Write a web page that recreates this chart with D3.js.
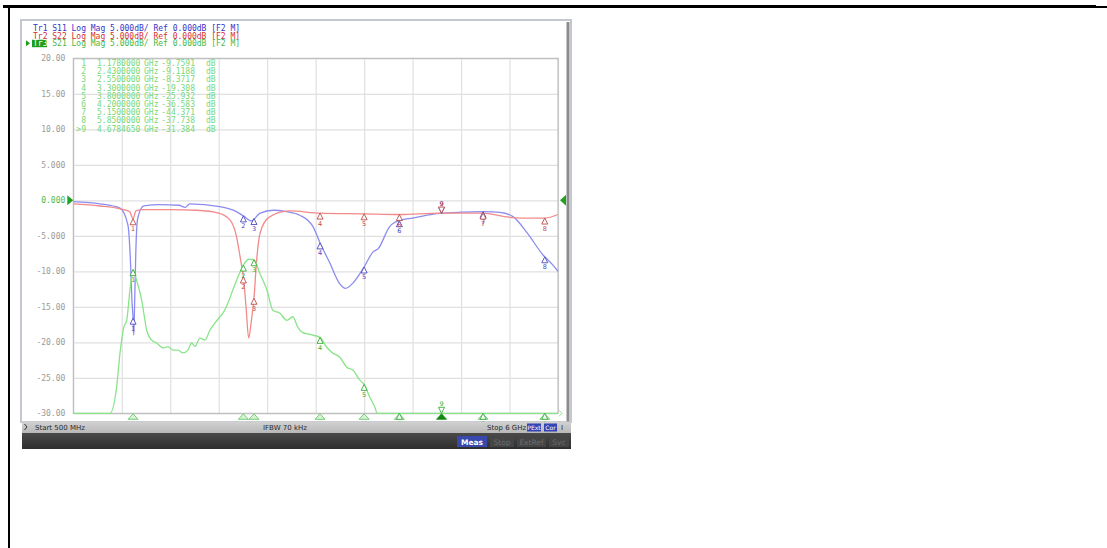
<!DOCTYPE html>
<html>
<head>
<meta charset="utf-8">
<script src="https://cdn.jsdelivr.net/npm/d3@7"></script>
<style>
  body { margin: 0; background: #fff; }
  svg { display: block; }
  .mono { font-family: "DejaVu Sans Mono", monospace; }
  .sans { font-family: "DejaVu Sans", sans-serif; }
</style>
</head>
<body>
<div id="chart"></div>
<script>
// Data (frequency in GHz, level in dB)
var s11Freq = [0.5, 0.8, 1.03, 1.12, 1.15, 1.165, 1.178, 1.186, 1.195, 1.21, 1.23, 1.30, 1.48, 1.70, 1.77, 1.82,
  2.16, 2.35, 2.43, 2.52, 2.62, 2.77, 2.92, 3.07, 3.22, 3.30, 3.41, 3.52, 3.59, 3.67, 3.79, 3.90, 3.96,
  4.09, 4.21, 4.35, 4.66, 5.15, 5.34, 5.49, 5.65, 5.83, 5.94, 6.0];
var s11Db = [-0.2, -0.5, -1.1, -3.5, -9, -14, -16.6, -19, -15, -7, -2.6, -0.8, -0.6, -0.7, -1.0, -0.5,
  -0.9, -1.6, -2.2, -2.9, -1.8, -1.4, -1.6, -2.1, -3.7, -6.0, -8.8, -11.7, -12.4, -11.7, -9.6, -7.3, -6.8,
  -3.7, -2.8, -2.5, -1.85, -1.6, -1.7, -2.3, -4.6, -7.7, -9.1, -10.0];

var s22Freq = [0.5, 0.8, 1.03, 1.14, 1.178, 1.21, 1.30, 1.60, 1.90, 2.15, 2.28, 2.35, 2.40, 2.43, 2.46, 2.49,
  2.52, 2.55, 2.58, 2.62, 2.72, 2.95, 3.30, 3.80, 4.20, 4.66, 5.15, 5.39, 5.60, 5.85, 6.0];
var s22Db = [-0.5, -0.8, -1.2, -1.6, -2.6, -1.5, -1.3, -1.3, -1.4, -1.8, -2.8, -5.0, -8.5, -10.8, -15, -19.4,
  -17, -13.8, -8.5, -4.6, -2.4, -1.5, -1.8, -1.9, -2.0, -1.8, -1.8, -2.3, -2.5, -2.5, -2.0];

var s21Freq = [0.5, 0.8, 0.916, 0.992, 1.03, 1.075, 1.106, 1.143, 1.178, 1.219, 1.276, 1.313, 1.332, 1.389,
  1.446, 1.521, 1.574, 1.631, 1.687, 1.744, 1.800, 1.843, 1.880, 1.937, 1.994, 2.050, 2.107, 2.164, 2.198,
  2.254, 2.311, 2.368, 2.43, 2.49, 2.55, 2.617, 2.696, 2.765, 2.844, 2.923, 2.991, 3.048, 3.10, 3.184, 3.30,
  3.375, 3.443, 3.524, 3.603, 3.672, 3.750, 3.80, 3.863, 3.920, 3.95, 4.2, 4.45, 4.678, 4.9, 5.15, 5.5, 5.85, 6.0];
var s21Db = [-45, -38, -30, -26.3, -21.5, -17.8, -16.9, -12.6, -9.76, -11.3, -14.1, -16.9, -18.3, -19.7,
  -20.1, -20.8, -20.6, -21.1, -21.1, -21.5, -21.1, -20.1, -20.6, -19.4, -19.7, -18.3, -17.3, -16.4, -15.9,
  -14.5, -12.6, -10.8, -9.12, -8.3, -8.37, -10.3, -12.6, -15.5, -15.9, -16.9, -16.4, -17.9, -18.6, -18.9, -19.31,
  -20.7, -21.5, -22.1, -23.5, -23.9, -25.3, -25.93, -27.7, -29.1, -31, -36.58, -33, -31.38, -38, -44.37, -40, -37.74, -39];

// Markers (marker 9 is the active one)
var markerNames = ["1", "2", "3", "4", "5", "6", "7", "8", ">9"];
var markerFreq = [1.178, 2.43, 2.55, 3.3, 3.8, 4.2, 5.15, 5.85, 4.678465];
var markerValue = ["-9.7591", "-9.1188", "-8.3717", "-19.308", "-25.932", "-36.583", "-44.371", "-37.738", "-31.384"];
var activeMarker = 8;

// Axis
var yTicks = [20, 15, 10, 5, 0, -5, -10, -15, -20, -25, -30];
var yTickLabels = ["20.00", "15.00", "10.00", "5.000", "0.000", "-5.000", "-10.00", "-15.00", "-20.00", "-25.00", "-30.00"];
var xGridTicks = [0.5, 1.05, 1.6, 2.15, 2.7, 3.25, 3.8, 4.35, 4.9, 5.45, 6.0];

var titleLines = [
  { tr: "Tr1", rest: " S11 Log Mag 5.000dB/ Ref 0.000dB [F2 M]", color: "#3434c8" },
  { tr: "Tr2", rest: " S22 Log Mag 5.000dB/ Ref 0.000dB [F2 M]", color: "#d43030" },
  { tr: "Tr3", rest: " S21 Log Mag 5.000dB/ Ref 0.000dB [F2 M]", color: "#44b844" }
];

var svgWidth = 1107;
var svgHeight = 548;

var plot = { left: 73.3, right: 558, top: 58.3, bottom: 413.3 };

var svg = d3.select("#chart")
  .append("svg")
  .attr("width", svgWidth)
  .attr("height", svgHeight);

// page rules (cell border around the picture)
svg.append("rect").attr("x", 3).attr("y", 5).attr("width", 1093).attr("height", 3).attr("fill", "#000");
svg.append("rect").attr("x", 1096).attr("y", 6).attr("width", 11).attr("height", 2).attr("fill", "#000");
svg.append("rect").attr("x", 8).attr("y", 5).attr("width", 2).attr("height", 543).attr("fill", "#000");

// analyzer screen frame
var screen = svg.append("g");
screen.append("rect").attr("x", 21).attr("y", 20).attr("width", 550).attr("height", 402)
  .attr("fill", "#fff").attr("stroke", "#c4c6d0").attr("stroke-width", 2);
screen.append("rect").attr("x", 566.5).attr("y", 22).attr("width", 3).attr("height", 400).attr("fill", "#8c8c8c");

var x = d3.scaleLinear().domain([0.5, 6]).range([plot.left, plot.right]);
var y = d3.scaleLinear().domain([-30, 20]).range([plot.bottom, plot.top]).clamp(true);

// grid
var gridY = screen.append("g")
  .attr("transform", `translate(${plot.left},0)`)
  .call(d3.axisLeft(y).tickValues(yTicks).tickSize(-(plot.right - plot.left)).tickFormat(""));
var gridX = screen.append("g")
  .attr("transform", `translate(0,${plot.bottom})`)
  .call(d3.axisBottom(x).tickValues(xGridTicks).tickSize(-(plot.bottom - plot.top)).tickFormat(""));
[gridX, gridY].forEach(function(g) {
  g.select(".domain").remove();
  g.selectAll("line").attr("stroke", "#e0e0e0").attr("stroke-width", 1.2);
});
screen.append("rect")
  .attr("x", plot.left).attr("y", plot.top)
  .attr("width", plot.right - plot.left).attr("height", plot.bottom - plot.top)
  .attr("fill", "none").attr("stroke", "#b4b4b4").attr("stroke-width", 1);

// y tick labels
var yAxis = screen.append("g")
  .attr("transform", `translate(${plot.left},0)`)
  .call(d3.axisLeft(y).tickValues(yTicks).tickSize(0).tickPadding(8)
    .tickFormat(function(d, i) { return yTickLabels[i]; }));
yAxis.select(".domain").remove();
yAxis.selectAll("text")
  .attr("class", "mono")
  .style("font-size", "8px")
  .attr("fill", function(d) { return d === 0 ? "#4cb84c" : "#9a9a9a"; });

// reference position triangles
screen.append("path")
  .attr("d", `M${plot.left - 6},${y(0) - 5}L${plot.left},${y(0)}L${plot.left - 6},${y(0) + 5}Z`)
  .attr("fill", "#22a022");
screen.append("path")
  .attr("d", `M${plot.right + 8},${y(0) - 5.5}L${plot.right + 2},${y(0)}L${plot.right + 8},${y(0) + 5.5}Z`)
  .attr("fill", "#22a022");

// title lines
titleLines.forEach(function(t, i) {
  var ty = 31 + i * 7.6;
  if (i === 2) {
    screen.append("rect").attr("x", 32).attr("y", ty - 6.5).attr("width", 15).attr("height", 7.5).attr("fill", "#1e9e1e");
    screen.append("path").attr("d", `M26,${ty - 6}L30,${ty - 3}L26,${ty}Z`).attr("fill", "#1e9e1e");
  }
  var txt = screen.append("text").attr("class", "mono").attr("x", 33).attr("y", ty)
    .style("font-size", "8px").attr("fill", t.color);
  txt.append("tspan").attr("fill", i === 2 ? "#fff" : t.color).text(t.tr);
  txt.append("tspan").text(t.rest);
});

// traces
var traces = [
  { freq: s11Freq, db: s11Db, line: "#8c8cf0", mark: "#4a48b8" },
  { freq: s22Freq, db: s22Db, line: "#f28a8a", mark: "#c24a4a" },
  { freq: s21Freq, db: s21Db, line: "#88e488", mark: "#3aae3a" }
];

var line = d3.line()
  .x(function(d) { return x(d[0]); })
  .y(function(d) { return y(d[1]); })
  .curve(d3.curveMonotoneX);

traces.forEach(function(t) {
  screen.append("path")
    .datum(d3.zip(t.freq, t.db))
    .attr("d", line)
    .attr("fill", "none")
    .attr("stroke", t.line)
    .attr("stroke-width", 1.3);
});

// end arrow on the S21 floor
screen.append("path")
  .attr("d", `M${plot.right + 1},${plot.bottom - 3}L${plot.right + 4},${plot.bottom}L${plot.right + 1},${plot.bottom + 3}`)
  .attr("fill", "none").attr("stroke", "#88e488").attr("stroke-width", 1);

function valueAt(freqs, vals, f) {
  var i = d3.bisectLeft(freqs, f);
  if (i <= 0) return vals[0];
  if (i >= freqs.length) return vals[vals.length - 1];
  var t = (f - freqs[i - 1]) / (freqs[i] - freqs[i - 1]);
  return vals[i - 1] + t * (vals[i] - vals[i - 1]);
}

// bottom stimulus indicators for each marker
screen.selectAll(".stim")
  .data(markerFreq)
  .enter()
  .append("path")
  .attr("class", "stim")
  .attr("d", function(f) {
    var cx = x(f);
    return `M${cx},${plot.bottom + 0.5}L${cx + 5},${plot.bottom + 6}L${cx - 5},${plot.bottom + 6}Z`;
  })
  .attr("fill", function(f, i) { return i === activeMarker ? "#128a12" : "#d4f4d4"; })
  .attr("stroke", function(f, i) { return i === activeMarker ? "#128a12" : "#5cc05c"; })
  .attr("stroke-width", 0.8);

// marker glyphs on each trace
traces.forEach(function(t) {
  markerFreq.forEach(function(f, i) {
    var px = x(f);
    var py = y(valueAt(t.freq, t.db, f));
    var g = screen.append("g").attr("transform", `translate(${px},${py})`);
    var num = String(i + 1);
    if (i === activeMarker) {
      g.append("path").attr("d", "M-3,-6L3,-6L0,0Z")
        .attr("fill", "#fff").attr("stroke", t.mark).attr("stroke-width", 0.9);
      g.append("text").attr("class", "sans").attr("x", 0).attr("y", -7.5)
        .attr("text-anchor", "middle").style("font-size", "6.5px").attr("fill", t.mark).text(num);
    } else {
      g.append("path").attr("d", "M0,0L3,6L-3,6Z")
        .attr("fill", "#fff").attr("stroke", t.mark).attr("stroke-width", 0.9);
      g.append("text").attr("class", "sans").attr("x", 0).attr("y", 12.5)
        .attr("text-anchor", "middle").style("font-size", "6.5px").attr("fill", t.mark).text(num);
    }
  });
});

// marker table (active trace S21)
var table = screen.append("g").attr("class", "mono").style("font-size", "8px").attr("fill", "#78d878");
markerNames.forEach(function(name, i) {
  var ty = 66 + i * 8.2;
  table.append("text").attr("x", 86).attr("y", ty).attr("text-anchor", "end").text(name);
  table.append("text").attr("x", 97).attr("y", ty).text(d3.format(".7f")(markerFreq[i]));
  table.append("text").attr("x", 144).attr("y", ty).text("GHz");
  table.append("text").attr("x", 195).attr("y", ty).attr("text-anchor", "end").text(markerValue[i]);
  table.append("text").attr("x", 206).attr("y", ty).text("dB");
});

// status bar
var defs = svg.append("defs");
var gStatus = defs.append("linearGradient").attr("id", "statusGrad").attr("x1", 0).attr("x2", 0).attr("y1", 0).attr("y2", 1);
gStatus.append("stop").attr("offset", "0%").attr("stop-color", "#d2d2d2");
gStatus.append("stop").attr("offset", "100%").attr("stop-color", "#b8b8b8");
var gKeys = defs.append("linearGradient").attr("id", "keyGrad").attr("x1", 0).attr("x2", 0).attr("y1", 0).attr("y2", 1);
gKeys.append("stop").attr("offset", "0%").attr("stop-color", "#4a4a4a");
gKeys.append("stop").attr("offset", "100%").attr("stop-color", "#2e2e2e");

svg.append("rect").attr("x", 22).attr("y", 421.5).attr("width", 549).attr("height", 11.5).attr("fill", "url(#statusGrad)");
svg.append("path").attr("d", "M24.5,424L27,427L24.5,430").attr("fill", "none").attr("stroke", "#333").attr("stroke-width", 1);

var statusBar = svg.append("g").attr("class", "sans").style("font-size", "7px").attr("fill", "#2a2a2a");
statusBar.append("text").attr("x", 35).attr("y", 430).text("Start 500 MHz");
statusBar.append("text").attr("x", 263).attr("y", 430).text("IFBW 70 kHz");
statusBar.append("text").attr("x", 487).attr("y", 430).text("Stop 6 GHz");

var flags = [{ label: "PExt", x: 527, w: 14 }, { label: "Cor", x: 544, w: 13 }];
flags.forEach(function(f) {
  svg.append("rect").attr("x", f.x).attr("y", 423.5).attr("width", f.w).attr("height", 8).attr("fill", "#3444b4");
  svg.append("text").attr("class", "sans").attr("x", f.x + f.w / 2).attr("y", 429.8)
    .attr("text-anchor", "middle").style("font-size", "6px").attr("fill", "#fff").text(f.label);
});
statusBar.append("text").attr("x", 561).attr("y", 430).text("I");

// soft key bar
svg.append("rect").attr("x", 22).attr("y", 433).attr("width", 549).attr("height", 16).attr("fill", "url(#keyGrad)");
var softKeys = [
  { label: "Meas", x: 457, w: 30, on: true },
  { label: "Stop", x: 490, w: 24, on: false },
  { label: "ExtRef", x: 517, w: 29, on: false },
  { label: "Svc", x: 549, w: 20, on: false }
];
softKeys.forEach(function(k) {
  svg.append("rect").attr("x", k.x).attr("y", 436).attr("width", k.w).attr("height", 11)
    .attr("fill", k.on ? "#3848ac" : "#454545");
  svg.append("text").attr("class", "sans").attr("x", k.x + k.w / 2).attr("y", 444.5)
    .attr("text-anchor", "middle").style("font-size", "7.5px")
    .style("font-weight", k.on ? "bold" : "normal")
    .attr("fill", k.on ? "#fff" : "#6c6c6c").text(k.label);
});
</script>
</body>
</html>
